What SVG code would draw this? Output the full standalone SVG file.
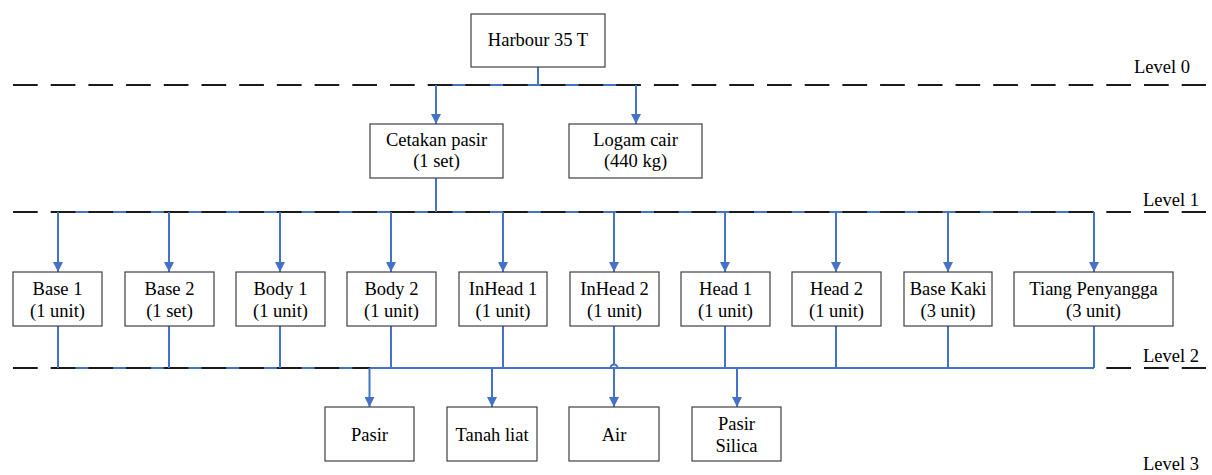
<svg xmlns="http://www.w3.org/2000/svg" width="1212" height="475" viewBox="0 0 1212 475">
<defs>
<marker id="ah" viewBox="0 0 10 10" refX="10" refY="5" markerWidth="5" markerHeight="5" orient="auto" markerUnits="strokeWidth">
<path d="M0,0 L10,5 L0,10 z" fill="#4472C4"/>
</marker>
</defs>
<style>
.box{fill:#fff;stroke:#404040;stroke-width:1.2}
text{font-family:'Liberation Serif','Times New Roman',Times,serif;font-size:18.5px;fill:#000}
.t{text-anchor:middle}
.dash{stroke:#1a1a1a;stroke-width:2;stroke-dasharray:24.7 13;fill:none}
.c{stroke:#4472C4;stroke-width:2;fill:none}
.a{stroke:#4472C4;stroke-width:2;fill:none;marker-end:url(#ah)}
</style>
<g id="connectors-under">
<line class="c" x1="436" y1="85" x2="636" y2="85"/>
<line class="c" x1="58" y1="212" x2="1094" y2="212"/>
<line class="c" x1="58" y1="368" x2="370" y2="368"/>
</g>
<g id="levels">
<line class="dash" x1="13" y1="85" x2="1206" y2="85"/>
<line class="dash" x1="13" y1="212" x2="1206" y2="212"/>
<line class="dash" x1="13" y1="368" x2="1206" y2="368"/>
<text x="1134" y="73">Level 0</text>
<text x="1143" y="206">Level 1</text>
<text x="1143" y="362">Level 2</text>
<text x="1143" y="470">Level 3</text>
</g>
<g id="connectors">
<line class="c" x1="538" y1="67" x2="538" y2="85"/>
<line class="a" x1="436" y1="85" x2="436" y2="124"/>
<line class="a" x1="636" y1="85" x2="636" y2="124"/>
<line class="c" x1="436" y1="178" x2="436" y2="212"/>
<line class="a" x1="58" y1="212" x2="58" y2="272"/>
<line class="a" x1="169" y1="212" x2="169" y2="272"/>
<line class="a" x1="280" y1="212" x2="280" y2="272"/>
<line class="a" x1="391" y1="212" x2="391" y2="272"/>
<line class="a" x1="503" y1="212" x2="503" y2="272"/>
<line class="a" x1="614" y1="212" x2="614" y2="272"/>
<line class="a" x1="725" y1="212" x2="725" y2="272"/>
<line class="a" x1="836" y1="212" x2="836" y2="272"/>
<line class="a" x1="948" y1="212" x2="948" y2="272"/>
<line class="a" x1="1094" y1="212" x2="1094" y2="272"/>
<line class="c" x1="370" y1="368" x2="1094" y2="368"/>
<line class="c" x1="58" y1="326" x2="58" y2="368"/>
<line class="c" x1="169" y1="326" x2="169" y2="368"/>
<line class="c" x1="280" y1="326" x2="280" y2="368"/>
<line class="c" x1="391" y1="326" x2="391" y2="368"/>
<line class="c" x1="503" y1="326" x2="503" y2="368"/>
<path class="c" d="M614,326 L614,365 M610.5,368 A3.5,3.5 0 0 1 617.5,368"/>
<line class="c" x1="725" y1="326" x2="725" y2="368"/>
<line class="c" x1="836" y1="326" x2="836" y2="368"/>
<line class="c" x1="948" y1="326" x2="948" y2="368"/>
<line class="c" x1="1094" y1="326" x2="1094" y2="368"/>
<line class="a" x1="369.5" y1="368" x2="369.5" y2="407"/>
<line class="a" x1="492" y1="368" x2="492" y2="407"/>
<line class="a" x1="614" y1="368" x2="614" y2="407"/>
<line class="a" x1="737" y1="368" x2="737" y2="407"/>
</g>
<g id="harbour"><rect class="box" x="471" y="14" width="134" height="53"/><text class="t" x="538" y="46">Harbour 35 T</text></g>
<g id="cetakan"><rect class="box" x="370" y="124" width="133" height="54"/><text class="t" x="436.5" y="146">Cetakan pasir</text><text class="t" x="436.5" y="167">(1 set)</text></g>
<g id="logam"><rect class="box" x="569" y="124" width="133" height="54"/><text class="t" x="635.5" y="146">Logam cair</text><text class="t" x="635.5" y="167">(440 kg)</text></g>
<g id="base1"><rect class="box" x="13" y="272" width="89" height="54"/><text class="t" x="57.5" y="295">Base 1</text><text class="t" x="57.5" y="317">(1 unit)</text></g>
<g id="base2"><rect class="box" x="125" y="272" width="89" height="54"/><text class="t" x="169.5" y="295">Base 2</text><text class="t" x="169.5" y="317">(1 set)</text></g>
<g id="body1"><rect class="box" x="236" y="272" width="89" height="54"/><text class="t" x="280.5" y="295">Body 1</text><text class="t" x="280.5" y="317">(1 unit)</text></g>
<g id="body2"><rect class="box" x="347" y="272" width="89" height="54"/><text class="t" x="391.5" y="295">Body 2</text><text class="t" x="391.5" y="317">(1 unit)</text></g>
<g id="inhead1"><rect class="box" x="459" y="272" width="88" height="54"/><text class="t" x="503" y="295">InHead 1</text><text class="t" x="503" y="317">(1 unit)</text></g>
<g id="inhead2"><rect class="box" x="570" y="272" width="89" height="54"/><text class="t" x="614.5" y="295">InHead 2</text><text class="t" x="614.5" y="317">(1 unit)</text></g>
<g id="head1"><rect class="box" x="681" y="272" width="89" height="54"/><text class="t" x="725.5" y="295">Head 1</text><text class="t" x="725.5" y="317">(1 unit)</text></g>
<g id="head2"><rect class="box" x="792" y="272" width="89" height="54"/><text class="t" x="836.5" y="295">Head 2</text><text class="t" x="836.5" y="317">(1 unit)</text></g>
<g id="basekaki"><rect class="box" x="904" y="272" width="88" height="54"/><text class="t" x="948" y="295">Base Kaki</text><text class="t" x="948" y="317">(3 unit)</text></g>
<g id="tiang"><rect class="box" x="1014" y="272" width="159" height="54"/><text class="t" x="1093.5" y="295">Tiang Penyangga</text><text class="t" x="1093.5" y="317">(3 unit)</text></g>
<g id="pasir"><rect class="box" x="325" y="407" width="89" height="54"/><text class="t" x="369.5" y="441">Pasir</text></g>
<g id="tanah"><rect class="box" x="447" y="407" width="90" height="54"/><text class="t" x="492" y="441">Tanah liat</text></g>
<g id="air"><rect class="box" x="569" y="407" width="90" height="54"/><text class="t" x="614" y="441">Air</text></g>
<g id="silica"><rect class="box" x="692" y="407" width="89" height="54"/><text class="t" x="736.5" y="430">Pasir</text><text class="t" x="736.5" y="452">Silica</text></g>
</svg>
